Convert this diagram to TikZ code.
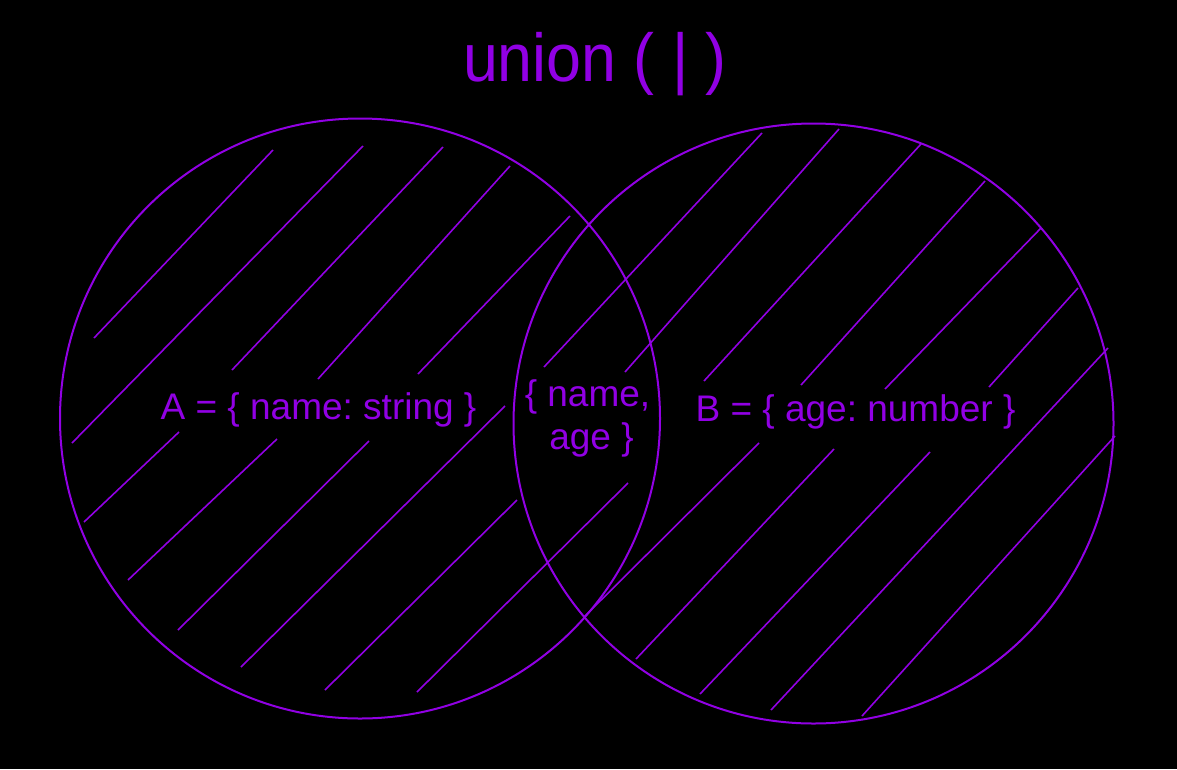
\documentclass[tikz,border=0pt]{standalone}
\usepackage{fontspec}
\setmainfont{Liberation Sans}
\usepackage{graphicx}
\frenchspacing
\definecolor{vio}{RGB}{145,0,228}
\begin{document}
\begin{tikzpicture}[x=1pt,y=-1pt,
  ring/.style={draw=vio,line width=2pt},
  hatch/.style={draw=vio,line width=1.6pt},
  lbl/.style={text=vio,font=\fontsize{37}{43}\selectfont,inner sep=0pt,anchor=base}]
\fill[black] (0,0) rectangle (1177,769);
\useasboundingbox (0,0) rectangle (1177,769);
\coordinate (ca) at (360,418.5);
\coordinate (cb) at (813.5,423.5);
\draw[ring] (ca) circle (300);
\draw[ring] (cb) circle (300);
% hatching, left set
\foreach \a/\b/\c/\d in {94/338/273/150, 72/443/363/146, 232/370/443/147,
  318/379/510/166, 418/374/570/216, 84/522/179/432, 128/580/277/439,
  178/630/369/441, 241/667/505/406, 325/690/517/500, 417/692/628/483}
  \draw[hatch] (\a,\b) -- (\c,\d);
% hatching, right set
\foreach \a/\b/\c/\d in {544/367/762/133, 625/372/839/129, 704/381/921/144,
  801/385/985/181, 885/389/1041/228, 989/387/1078/288, 771/710/1108/348,
  584/617/759/443, 636/659/834/449, 700/694/930/452, 862/716/1115/436}
  \draw[hatch] (\a,\b) -- (\c,\d);
\node[lbl,font=\fontsize{64}{70}\selectfont] (title) at (595,81) {\scalebox{0.98}[1.06]{union ( | )}};
\node[lbl] (la) at (318.5,419.5) {A = \{ name: string \}};
\node[lbl] (lb) at (855.5,421) {B = \{ age: number \}};
\node[lbl] (lab1) at (587.5,406.5) {\{ name,};
\node[lbl] (lab2) at (591.5,449.5) {age \}};
\end{tikzpicture}
\end{document}
